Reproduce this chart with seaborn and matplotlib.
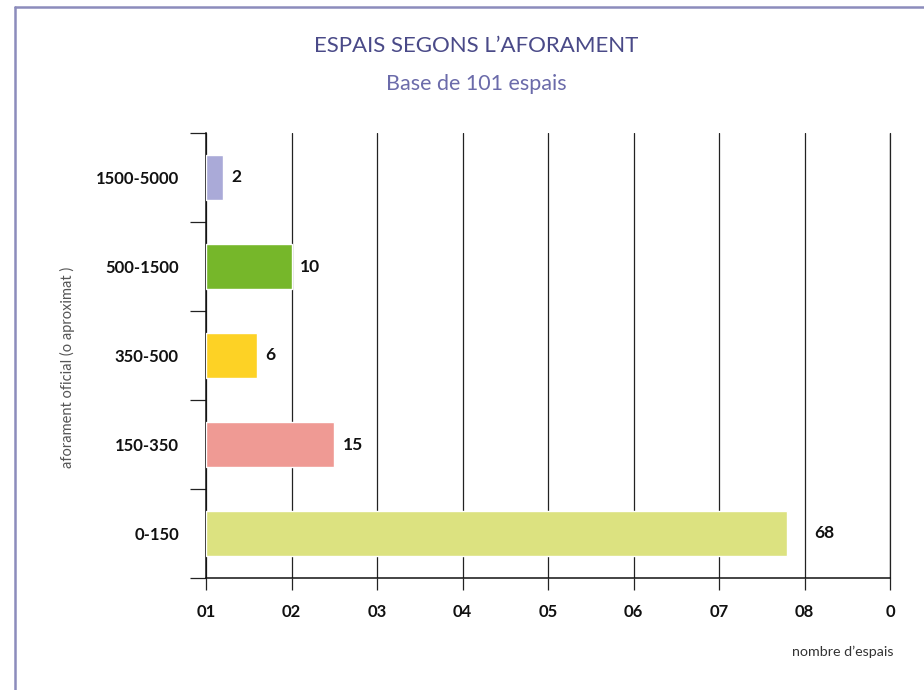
import matplotlib
matplotlib.use("Agg")
import matplotlib.pyplot as plt
import matplotlib.lines as mlines
import pandas as pd
import seaborn as sns

# Data
categories = ["1500-5000", "500-1500", "350-500", "150-350", "0-150"]
values = [2, 10, 6, 15, 68]
bar_colors = ["#aaaad8", "#76b72a", "#fdd225", "#ef9a94", "#dce280"]
x_ticks = [0, 10, 20, 30, 40, 50, 60, 70, 80]
x_tick_labels = ["01", "02", "03", "04", "05", "06", "07", "08", "0"]

title = "ESPAIS SEGONS L\u2019AFORAMENT"
subtitle = "Base de 101 espais"
y_label = "aforament oficial (o aproximat )"
x_label = "nombre d\u2019espais"

df = pd.DataFrame({"aforament": categories, "espais": values})

sns.set_style("ticks")
plt.rcParams["font.family"] = ["Lato", "DejaVu Sans"]

fig = plt.figure(figsize=(9.24, 6.9), dpi=100)
ax = fig.add_axes([206 / 924, 1 - 578 / 690, (890 - 206) / 924, (578 - 133) / 690])

sns.barplot(data=df, x="espais", y="aforament", hue="aforament",
            order=categories, hue_order=categories,
            palette=dict(zip(categories, bar_colors)), saturation=1,
            width=0.5, legend=False, ax=ax, zorder=3)

# value labels next to each bar (the long one sits further out)
for cont in ax.containers:
    v = cont.datavalues[0]
    ax.bar_label(cont, padding=19.5 if v > 50 else 6, fontsize=12.5,
                 fontweight="bold", color="#111111")

ax.set_xlim(0, 80)
ax.set_ylim(4.5, -0.5)

# vertical grid
ax.set_xticks(x_ticks)
ax.set_xticklabels(x_tick_labels, fontsize=12, fontweight="bold", color="#111111")
ax.grid(axis="x", color="#222222", linewidth=0.9, zorder=0)
ax.grid(axis="y", visible=False)
ax.axvline(80, color="#222222", linewidth=0.9, clip_on=False, zorder=0)
ax.tick_params(axis="x", which="major", bottom=True, length=8.6, width=0.9,
               color="#222222", pad=10, direction="out")

# category labels at centres, tick marks at the boundaries
ax.set_yticks(range(len(categories)))
ax.set_yticklabels(categories, fontsize=12, fontweight="bold", color="#111111")
ax.tick_params(axis="y", which="major", left=False, length=0, pad=19.5)
ax.set_yticks([i - 0.5 for i in range(len(categories) + 1)], minor=True)
ax.tick_params(axis="y", which="minor", left=True, length=11.5, width=0.9,
               color="#222222", direction="out")

for side in ["top", "right"]:
    ax.spines[side].set_visible(False)
for side in ["left", "bottom"]:
    ax.spines[side].set_color("#111111")
    ax.spines[side].set_linewidth(1.1)

ax.set_xlabel("")
ax.set_ylabel("")

fig.text(67 / 924, 1 - 367 / 690, y_label, rotation=90, ha="center", va="center",
         fontsize=10.5, color="#555555")
fig.text(893 / 924, 1 - 652 / 690, x_label, ha="right", va="center",
         fontsize=10.3, color="#333333")

fig.text(476 / 924, 1 - 46 / 690, title, ha="center", va="center",
         fontsize=16, color="#4a4a88")
fig.text(476 / 924, 1 - 84 / 690, subtitle, ha="center", va="center",
         fontsize=15.5, color="#6b6baa")

# page frame
frame_color = "#8c8cbc"
fig.add_artist(mlines.Line2D([15 / 924, 1], [1 - 7 / 690, 1 - 7 / 690],
                             color=frame_color, linewidth=1.8, transform=fig.transFigure))
fig.add_artist(mlines.Line2D([15 / 924, 15 / 924], [0, 1 - 7 / 690],
                             color=frame_color, linewidth=1.8, transform=fig.transFigure))

fig.savefig("out.png", dpi=100)
